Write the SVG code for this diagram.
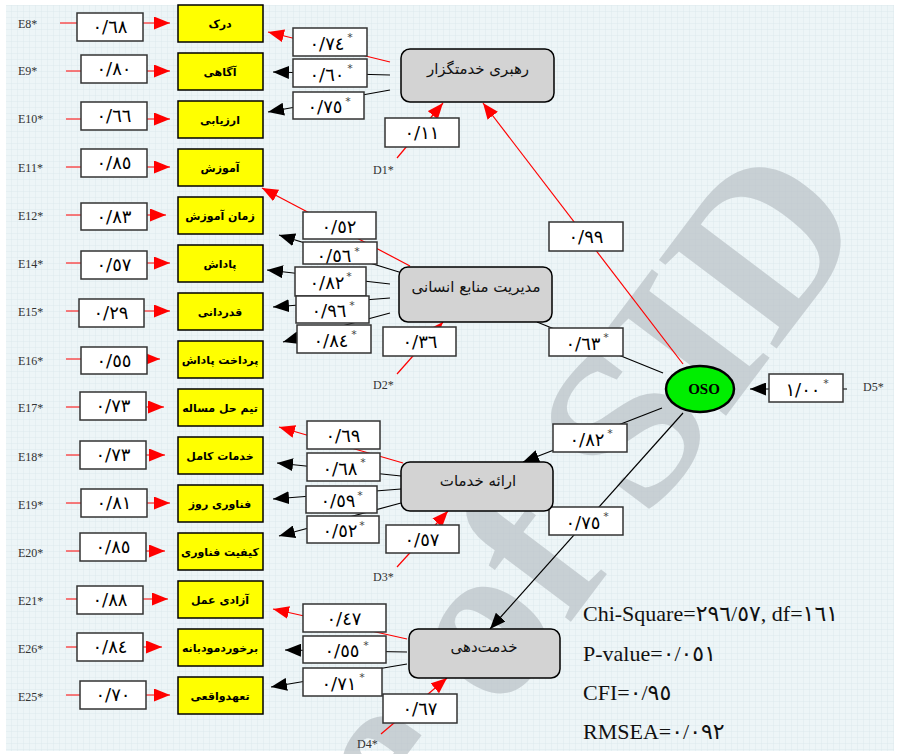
<svg xmlns="http://www.w3.org/2000/svg" width="900" height="754" viewBox="0 0 900 754">
<defs>
<pattern id="grid" width="6" height="6" patternUnits="userSpaceOnUse">
<rect width="6" height="6" fill="#edf5f7"/>
<path d="M6 0V6H0" fill="none" stroke="#d9e6ea" stroke-width="0.7"/>
</pattern>
<marker id="ar" markerUnits="userSpaceOnUse" markerWidth="17" markerHeight="13" refX="16" refY="6.5" orient="auto"><path d="M0,0 L16,6.5 L0,13 z" fill="#ff0000"/></marker>
<marker id="ab" markerUnits="userSpaceOnUse" markerWidth="17" markerHeight="13" refX="16" refY="6.5" orient="auto"><path d="M0,0 L16,6.5 L0,13 z" fill="#000"/></marker>
<style>
.ind{fill:#ffff00;stroke:#000;stroke-width:1.5}
.indt{font-family:"DejaVu Sans",sans-serif;font-weight:bold;font-size:11px;fill:#000;text-anchor:middle}
.vb{fill:#fff;stroke:#333;stroke-width:1.5}
.vt{font-family:"DejaVu Sans",sans-serif;font-size:18px;fill:#000;text-anchor:middle}
.st{font-family:"DejaVu Sans",sans-serif;font-size:11px;fill:#444;text-anchor:middle}
.lat{fill:#d3d3d3;stroke:#000;stroke-width:1.5}
.latt{font-family:"DejaVu Sans",sans-serif;font-size:15px;fill:#111;text-anchor:middle}
.el{font-family:"Liberation Serif",serif;font-size:12px;fill:#333}
.r{stroke:#ff0000;stroke-width:1.2;fill:none}
.b{stroke:#000;stroke-width:1.2;fill:none}
.stat{font-family:"Liberation Serif","DejaVu Sans",serif;font-size:22px;fill:#111}
.wm{font-family:"Liberation Serif",serif;font-weight:bold;font-size:225px;fill:#b9c1c6;opacity:0.7}
</style>
</defs>
<rect width="900" height="754" fill="#fff"/>
<rect x="6" y="5" width="888" height="746" fill="url(#grid)"/>
<g id="watermark">
<text class="wm" x="872" y="222" text-anchor="end" transform="rotate(-53 872 222)">Archive of SID</text>
</g>

<g id="connectors">
<line class="r" x1="60" y1="23" x2="170" y2="23" marker-end="url(#ar)"/>
<line class="r" x1="66" y1="71" x2="170" y2="71" marker-end="url(#ar)"/>
<line class="r" x1="66" y1="119" x2="170" y2="119" marker-end="url(#ar)"/>
<line class="r" x1="66" y1="167" x2="170" y2="167" marker-end="url(#ar)"/>
<line class="r" x1="66" y1="215" x2="166" y2="215" marker-end="url(#ar)"/>
<line class="r" x1="66" y1="263" x2="170" y2="263" marker-end="url(#ar)"/>
<line class="r" x1="66" y1="311" x2="170" y2="311" marker-end="url(#ar)"/>
<line class="r" x1="66" y1="359" x2="160" y2="359" marker-end="url(#ar)"/>
<line class="r" x1="66" y1="407" x2="164" y2="407" marker-end="url(#ar)"/>
<line class="r" x1="66" y1="455" x2="165" y2="455" marker-end="url(#ar)"/>
<line class="r" x1="66" y1="503" x2="170" y2="503" marker-end="url(#ar)"/>
<line class="r" x1="66" y1="551" x2="165" y2="551" marker-end="url(#ar)"/>
<line class="r" x1="66" y1="599" x2="168" y2="599" marker-end="url(#ar)"/>
<line class="r" x1="66" y1="647" x2="162" y2="647" marker-end="url(#ar)"/>
<line class="r" x1="66" y1="695" x2="170" y2="695" marker-end="url(#ar)"/>
<line class="r" x1="390" y1="62" x2="268" y2="32" marker-end="url(#ar)"/>
<line class="b" x1="390" y1="75" x2="273" y2="72" marker-end="url(#ab)"/>
<line class="b" x1="390" y1="90" x2="268" y2="112" marker-end="url(#ab)"/>
<line class="r" x1="397" y1="158" x2="443" y2="103" marker-end="url(#ar)"/>
<line class="r" x1="410" y1="266" x2="262" y2="188" marker-end="url(#ar)"/>
<line class="b" x1="399" y1="272" x2="279" y2="235" marker-end="url(#ab)"/>
<line class="b" x1="390" y1="284" x2="267" y2="270" marker-end="url(#ab)"/>
<line class="b" x1="390" y1="298" x2="273" y2="307" marker-end="url(#ab)"/>
<line class="b" x1="390" y1="313" x2="283" y2="342" marker-end="url(#ab)"/>
<line class="r" x1="397" y1="374" x2="443" y2="322" marker-end="url(#ar)"/>
<line class="r" x1="403" y1="463" x2="279" y2="427" marker-end="url(#ar)"/>
<line class="b" x1="401" y1="476" x2="277" y2="463" marker-end="url(#ab)"/>
<line class="b" x1="401" y1="489" x2="273" y2="499" marker-end="url(#ab)"/>
<line class="b" x1="401" y1="503" x2="279" y2="536" marker-end="url(#ab)"/>
<line class="r" x1="397" y1="567" x2="448" y2="511" marker-end="url(#ar)"/>
<line class="r" x1="407" y1="639" x2="273" y2="609" marker-end="url(#ar)"/>
<line class="b" x1="407" y1="652" x2="285" y2="650" marker-end="url(#ab)"/>
<line class="b" x1="407" y1="664" x2="271" y2="687" marker-end="url(#ab)"/>
<line class="r" x1="381" y1="734" x2="447" y2="678" marker-end="url(#ar)"/>
<line class="r" x1="683" y1="364" x2="483" y2="103" marker-end="url(#ar)"/>
<line class="b" x1="663" y1="373" x2="537" y2="322"/>
<line class="b" x1="662" y1="408" x2="523" y2="462" marker-end="url(#ab)"/>
<line class="b" x1="683" y1="413" x2="490" y2="629" marker-end="url(#ab)"/>
<line class="b" x1="847" y1="389" x2="750" y2="389" marker-end="url(#ab)"/>
</g>

<g id="error-labels">
<text class="el" x="18" y="28">E8*</text>
<text class="el" x="18" y="75">E9*</text>
<text class="el" x="18" y="123">E10*</text>
<text class="el" x="18" y="172">E11*</text>
<text class="el" x="18" y="220">E12*</text>
<text class="el" x="18" y="268">E14*</text>
<text class="el" x="18" y="316">E15*</text>
<text class="el" x="18" y="365">E16*</text>
<text class="el" x="18" y="412">E17*</text>
<text class="el" x="18" y="461">E18*</text>
<text class="el" x="18" y="509">E19*</text>
<text class="el" x="18" y="557">E20*</text>
<text class="el" x="18" y="605">E21*</text>
<text class="el" x="18" y="653">E26*</text>
<text class="el" x="18" y="701">E25*</text>
<text class="el" x="373" y="174">D1*</text>
<text class="el" x="373" y="389">D2*</text>
<text class="el" x="373" y="581">D3*</text>
<text class="el" x="357" y="748">D4*</text>
<text class="el" x="863" y="391">D5*</text>
</g>

<g id="left-values">
<rect class="vb" x="77" y="13" width="66" height="28"/><text class="vt" x="110" y="33">٠/٦٨</text>
<rect class="vb" x="81" y="55" width="66" height="28"/><text class="vt" x="114" y="75">٠/٨٠</text>
<rect class="vb" x="81" y="102" width="66" height="28"/><text class="vt" x="114" y="122">٠/٦٦</text>
<rect class="vb" x="81" y="149" width="66" height="28"/><text class="vt" x="114" y="169">٠/٨٥</text>
<rect class="vb" x="81" y="203" width="66" height="27"/><text class="vt" x="114" y="223">٠/٨٣</text>
<rect class="vb" x="81" y="251" width="66" height="28"/><text class="vt" x="114" y="271">٠/٥٧</text>
<rect class="vb" x="79" y="299" width="65" height="28"/><text class="vt" x="111" y="319">٠/٢٩</text>
<rect class="vb" x="81" y="347" width="66" height="27"/><text class="vt" x="114" y="367">٠/٥٥</text>
<rect class="vb" x="80" y="392" width="66" height="28"/><text class="vt" x="113" y="412">٠/٧٣</text>
<rect class="vb" x="80" y="441" width="66" height="28"/><text class="vt" x="113" y="461">٠/٧٣</text>
<rect class="vb" x="81" y="489" width="66" height="28"/><text class="vt" x="114" y="509">٠/٨١</text>
<rect class="vb" x="80" y="533" width="66" height="28"/><text class="vt" x="113" y="553">٠/٨٥</text>
<rect class="vb" x="77" y="586" width="66" height="28"/><text class="vt" x="110" y="606">٠/٨٨</text>
<rect class="vb" x="77" y="633" width="66" height="28"/><text class="vt" x="110" y="653">٠/٨٤</text>
<rect class="vb" x="80" y="681" width="66" height="28"/><text class="vt" x="113" y="701">٠/٧٠</text>
</g>

<g id="indicators">
<g id="n-dark"><rect class="ind" x="178" y="5" width="85" height="37"/><text class="indt" x="220" y="28">درک</text></g>
<g id="n-agahi"><rect class="ind" x="178" y="53" width="85" height="37"/><text class="indt" x="220" y="76">آگاهی</text></g>
<g id="n-arzyabi"><rect class="ind" x="178" y="101" width="85" height="37"/><text class="indt" x="220" y="124">ارزیابی</text></g>
<g id="n-amozesh"><rect class="ind" x="178" y="149" width="85" height="37"/><text class="indt" x="220" y="172">آموزش</text></g>
<g id="n-zaman"><rect class="ind" x="178" y="197" width="85" height="37"/><text class="indt" x="220" y="220">زمان آموزش</text></g>
<g id="n-padash"><rect class="ind" x="178" y="245" width="85" height="37"/><text class="indt" x="220" y="268">پاداش</text></g>
<g id="n-ghadrdani"><rect class="ind" x="178" y="293" width="85" height="37"/><text class="indt" x="220" y="316">قدردانی</text></g>
<g id="n-pardakht"><rect class="ind" x="178" y="341" width="85" height="37"/><text class="indt" x="220" y="364">پرداخت پاداش</text></g>
<g id="n-team"><rect class="ind" x="178" y="389" width="85" height="37"/><text class="indt" x="220" y="412">تیم حل مساله</text></g>
<g id="n-khadamat"><rect class="ind" x="178" y="437" width="85" height="37"/><text class="indt" x="220" y="460">خدمات کامل</text></g>
<g id="n-fanavari"><rect class="ind" x="178" y="485" width="85" height="37"/><text class="indt" x="220" y="508">فناوری روز</text></g>
<g id="n-keyfiat"><rect class="ind" x="178" y="533" width="85" height="37"/><text class="indt" x="220" y="556">کیفیت فناوری</text></g>
<g id="n-azadi"><rect class="ind" x="178" y="581" width="85" height="37"/><text class="indt" x="220" y="604">آزادی عمل</text></g>
<g id="n-barkhord"><rect class="ind" x="178" y="629" width="85" height="37"/><text class="indt" x="220" y="652">برخوردمودبانه</text></g>
<g id="n-taahod"><rect class="ind" x="178" y="677" width="85" height="37"/><text class="indt" x="220" y="700">تعهدواقعی</text></g>
</g>

<g id="path-values">
<rect class="vb" x="293" y="28" width="74" height="28"/><text class="vt" x="327" y="50">٠/٧٤</text><text class="st" x="350" y="41">*</text>
<rect class="vb" x="293" y="59" width="74" height="28"/><text class="vt" x="327" y="81">٠/٦٠</text><text class="st" x="350" y="72">*</text>
<rect class="vb" x="293" y="92" width="71" height="27"/><text class="vt" x="325" y="113">٠/٧٥</text><text class="st" x="348" y="105">*</text>
<rect class="vb" x="385" y="118" width="74" height="29"/><text class="vt" x="422" y="139">٠/١١</text>
<rect class="vb" x="549" y="222" width="74" height="29"/><text class="vt" x="586" y="243">٠/٩٩</text>
<rect class="vb" x="303" y="212" width="73" height="27"/><text class="vt" x="339" y="233">٠/٥٢</text>
<rect class="vb" x="303" y="242" width="74" height="22"/><text class="vt" x="334" y="262">٠/٥٦</text><text class="st" x="357" y="255">*</text>
<rect class="vb" x="295" y="267" width="71" height="29"/><text class="vt" x="327" y="289">٠/٨٢</text><text class="st" x="349" y="280">*</text>
<rect class="vb" x="296" y="296" width="73" height="27"/><text class="vt" x="329" y="317">٠/٩٦</text><text class="st" x="352" y="309">*</text>
<rect class="vb" x="297" y="325" width="74" height="28"/><text class="vt" x="331" y="347">٠/٨٤</text><text class="st" x="354" y="338">*</text>
<rect class="vb" x="383" y="327" width="73" height="29"/><text class="vt" x="420" y="348">٠/٣٦</text>
<rect class="vb" x="549" y="328" width="74" height="28"/><text class="vt" x="583" y="350">٠/٦٣</text><text class="st" x="606" y="341">*</text>
<rect class="vb" x="307" y="421" width="73" height="28"/><text class="vt" x="343" y="442">٠/٦٩</text>
<rect class="vb" x="307" y="453" width="73" height="28"/><text class="vt" x="340" y="475">٠/٦٨</text><text class="st" x="363" y="466">*</text>
<rect class="vb" x="306" y="486" width="71" height="27"/><text class="vt" x="338" y="507">٠/٥٩</text><text class="st" x="360" y="499">*</text>
<rect class="vb" x="307" y="516" width="72" height="27"/><text class="vt" x="340" y="537">٠/٥٢</text><text class="st" x="362" y="529">*</text>
<rect class="vb" x="386" y="525" width="73" height="28"/><text class="vt" x="422" y="546">٠/٥٧</text>
<rect class="vb" x="553" y="424" width="74" height="28"/><text class="vt" x="587" y="446">٠/٨٢</text><text class="st" x="610" y="437">*</text>
<rect class="vb" x="549" y="507" width="74" height="28"/><text class="vt" x="583" y="529">٠/٧٥</text><text class="st" x="606" y="520">*</text>
<rect class="vb" x="303" y="604" width="83" height="28"/><text class="vt" x="344" y="625">٠/٤٧</text>
<rect class="vb" x="303" y="636" width="83" height="27"/><text class="vt" x="342" y="657">٠/٥٥</text><text class="st" x="366" y="649">*</text>
<rect class="vb" x="303" y="668" width="79" height="28"/><text class="vt" x="339" y="690">٠/٧١</text><text class="st" x="362" y="681">*</text>
<rect class="vb" x="383" y="694" width="74" height="29"/><text class="vt" x="420" y="715">٠/٦٧</text>
<rect class="vb" x="769" y="374" width="74" height="28"/><text class="vt" x="803" y="396">١/٠٠</text><text class="st" x="826" y="387">*</text>
</g>

<g id="latent-leadership"><rect class="lat" x="401" y="49" width="153" height="53" rx="9"/><text class="latt" x="478" y="74">رهبری خدمتگزار</text></g>
<g id="latent-hrm"><rect class="lat" x="399" y="267" width="153" height="55" rx="9"/><text class="latt" x="476" y="292">مدیریت منابع انسانی</text></g>
<g id="latent-service"><rect class="lat" x="401" y="462" width="152" height="49" rx="9"/><text class="latt" x="478" y="486">ارائه خدمات</text></g>
<g id="latent-servicing"><rect class="lat" x="409" y="629" width="151" height="49" rx="9"/><text class="latt" x="484" y="652">خدمت‌دهی</text></g>
<g id="oso"><ellipse cx="700" cy="389" rx="34" ry="23" fill="#00ee00" stroke="#000" stroke-width="2.5"/><text x="704" y="394" font-family="Liberation Serif,serif" font-weight="bold" font-size="15" text-anchor="middle">OSO</text></g>

<g id="fit-stats">
<text class="stat" x="583" y="621">Chi-Square=٢٩٦/٥٧, df=١٦١</text>
<text class="stat" x="583" y="661">P-value=٠/٠٥١</text>
<text class="stat" x="583" y="700">CFI=٠/٩٥</text>
<text class="stat" x="583" y="739">RMSEA=٠/٠٩٢</text>
</g>
</svg>
